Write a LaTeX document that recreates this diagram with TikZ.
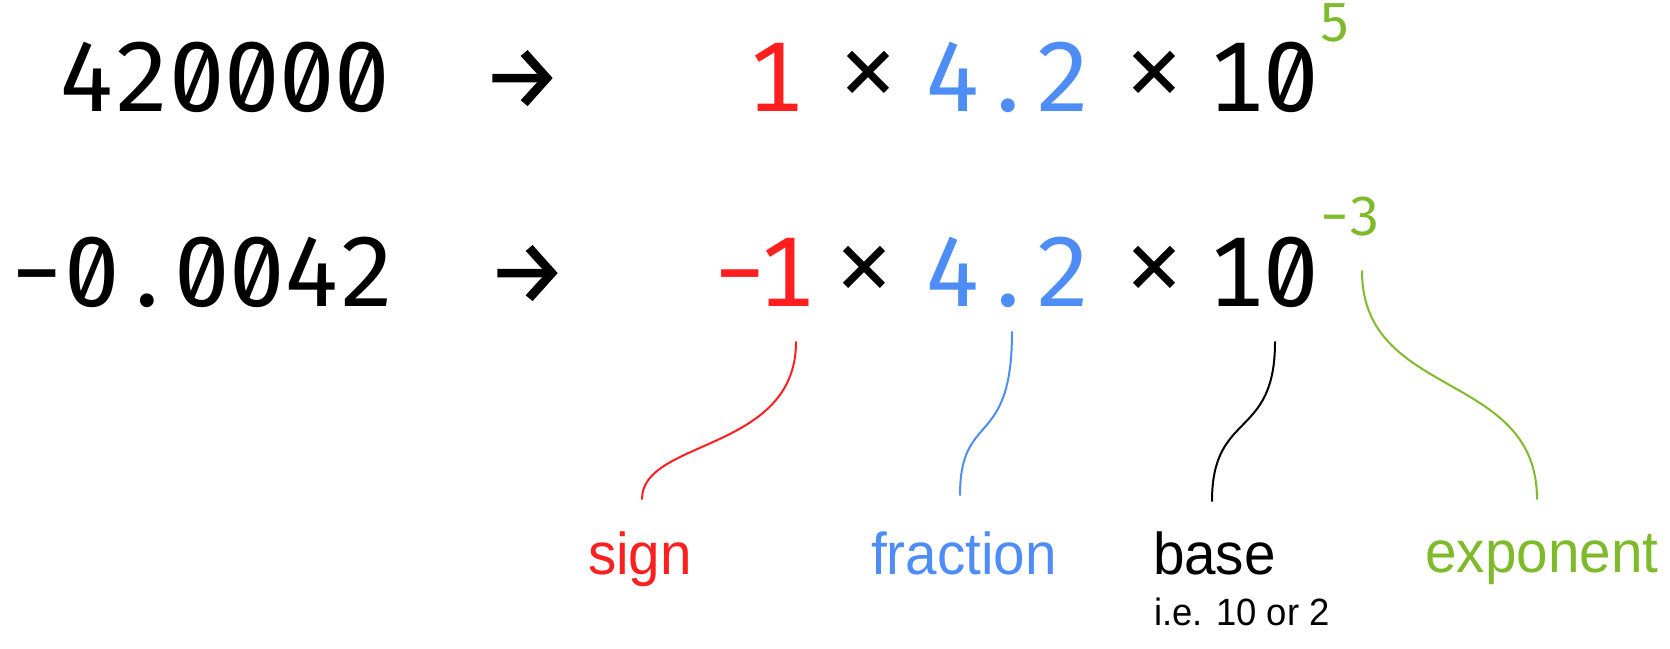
\documentclass[tikz,border=0pt]{standalone}
\usepackage{fontspec}
\setmainfont{Liberation Sans}
\newfontfamily\monofont{DejaVu Sans Mono}
\newfontfamily\digfont[Numbers={Monospaced,SlashedZero}]{Fira Sans}
\newfontfamily\arrfont[FakeBold=1.5]{Fira Sans}
\newfontfamily\labfont[FakeStretch=0.96]{Liberation Sans}
\definecolor{sgn}{HTML}{FF1F1F}
\definecolor{frc}{HTML}{4E8DF5}
\definecolor{xpn}{HTML}{7FBA2C}
\newcommand\C[1]{\makebox[55pt][c]{#1}}
\newcommand\Cn[1]{\makebox[46pt][c]{#1}}
\newcommand\Cs[1]{\makebox[30pt][c]{#1}}
\begin{document}
\begin{tikzpicture}[x=1pt,y=-1pt,
  every node/.style={inner sep=0pt,outer sep=0pt},
  big/.style={font=\digfont\fontsize{99}{105}\selectfont},
  sym/.style={font=\monofont\fontsize{93}{100}\selectfont},
  arr/.style={font=\arrfont\fontsize{88}{100}\selectfont},
  sup/.style={font=\digfont\fontsize{55}{60}\selectfont,text=xpn},
  lab/.style={font=\labfont\fontsize{59}{66}\selectfont},
  small/.style={font=\labfont\fontsize{38}{44}\selectfont},
  curve/.style={line width=2pt,line cap=round}]
\useasboundingbox (0,0) rectangle (1670,648);

% row 1
\node[big,anchor=base west] (n1) at (60,111) {\C{4}\C{2}\C{0}\C{0}\C{0}\C{0}};
\node[arr,anchor=center] (a1) at (522,79) {→};
\node[big,anchor=base,text=sgn] (s1) at (775,111) {\C{1}};
\node[sym,anchor=center] (m1) at (868,76) {×};
\node[big,anchor=base,text=frc] (f1) at (1008,111) {\C{4}\C{.}\C{2}};
\node[sym,anchor=center] (m2) at (1154,76) {×};
\node[big,anchor=base] (b1) at (1264,111) {\C{1}\C{0}};
\node[sup,anchor=base] (e1) at (1335,41) {\Cs{5}};

% row 2
\node[big,anchor=base west] (n2) at (10,306) {\C{−}\C{0}\C{.}\C{0}\C{0}\C{4}\C{2}};
\node[arr,anchor=center] (a2) at (527,274) {→};
\node[big,anchor=base,text=sgn] (s2) at (763,306) {\Cn{−}\Cn{1}};
\node[sym,anchor=center] (m3) at (864,271) {×};
\node[big,anchor=base,text=frc] (f2) at (1008,306) {\C{4}\C{.}\C{2}};
\node[sym,anchor=center] (m4) at (1154,271) {×};
\node[big,anchor=base] (b2) at (1264,306) {\C{1}\C{0}};
\node[sup,anchor=base] (e2) at (1350,235) {\Cs{−}\Cs{3}};

% labels
\node[lab,anchor=base,text=sgn] (lsign) at (640,574) {sign};
\node[lab,anchor=base,text=frc] (lfrac) at (964,574) {fraction};
\node[lab,anchor=base west] (lbase) at (1153,574) {base};
\node[small,anchor=base west] (lnote) at (1154,625) {i.e. 10 or 2};
\node[lab,anchor=base,text=xpn] (lexp) at (1542,572) {exponent};

% connector ends
\coordinate (cs1) at (796,342); \coordinate (cs2) at (642,499);
\coordinate (cf1) at (1012,332); \coordinate (cf2) at (960,495);
\coordinate (cb1) at (1275,342); \coordinate (cb2) at (1212,501);
\coordinate (ce1) at (1362,271); \coordinate (ce2) at (1537,499);

\draw[curve,sgn] (cs1) .. controls +(0,110) and +(0,-60) .. (cs2);
\draw[curve,frc] (cf1) .. controls +(0,118) and +(0,-85) .. (cf2);
\draw[curve,black] (cb1) .. controls +(0,98) and +(0,-91) .. (cb2);
\draw[curve,xpn] (ce1) .. controls +(0,129) and +(0,-129) .. (ce2);
\end{tikzpicture}
\end{document}
